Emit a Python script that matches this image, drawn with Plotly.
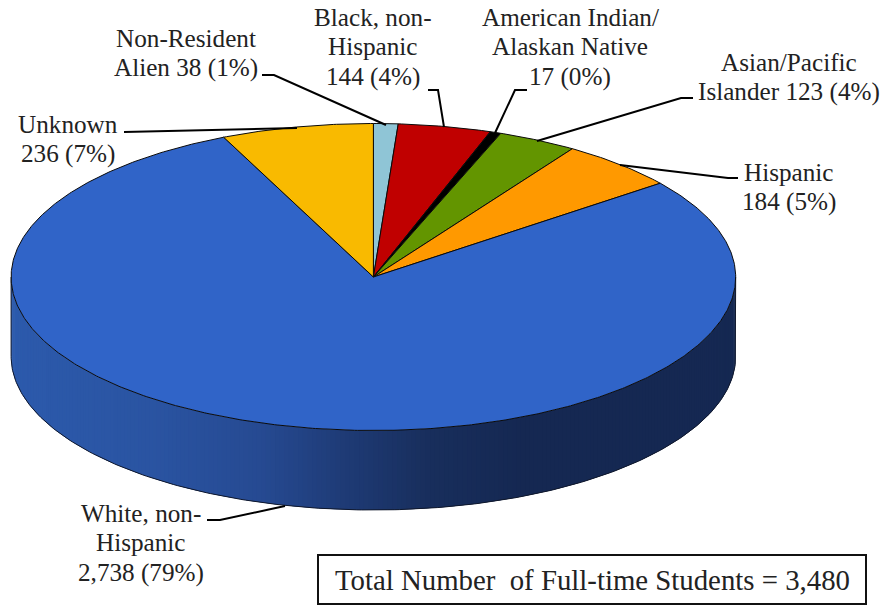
import numpy as np
import plotly.graph_objects as go

# ---- data (clockwise from 12 o'clock) ----
categories = ["Non-Resident Alien", "Black, non-Hispanic", "American Indian/Alaskan Native",
              "Asian/Pacific Islander", "Hispanic", "White, non-Hispanic", "Unknown"]
students = [38, 144, 17, 123, 184, 2738, 236]
label_texts = ["Non-Resident<br>Alien 38 (1%)", "Black, non-<br>Hispanic<br>144 (4%)",
               "American Indian/<br>Alaskan Native<br>17 (0%)", "Asian/Pacific<br>Islander 123 (4%)",
               "Hispanic<br>184 (5%)", "White, non-<br>Hispanic<br>2,738 (79%)", "Unknown<br>236 (7%)"]
total_text = "Total Number  of Full-time Students = 3,480"

# ---- styling / layout ----
slice_colors = ["#8fc5d6", "#c00000", "#000000", "#639500", "#ff9900", "#3064c8", "#f9ba00"]
CX, CY, RX, RY, DEPTH = 373.4, 277.0, 362.3, 153.5, 79.5
label_pos = [(186, 38), (373, 17), (570, 17), (789, 62), (789, 172), (141, 513), (68, 124)]
LINE_STEP = 29.8
leaders = [
    "M262,75 L274,75 L386,125",
    "M428,90 L438,90 L444,127",
    "M527,90 L515,90 L495,133",
    "M693,98 L681,98 L537,141",
    "M738,178 L728,178 L620,165",
    "M124,132 L297,128",
    "M207,520 L220,520 L285,506",
]
# side shading: colour as a function of horizontal position
shade_x = [11, 150, 260, 350, 430, 520, 736]
shade_rgb = [(44, 90, 172), (42, 84, 162), (38, 74, 146), (30, 58, 116), (24, 46, 92), (21, 40, 82), (21, 40, 82)]

FONT = "Liberation Serif"
TEXT = "#222222"


def ex(theta):
    return CX + RX * np.sin(theta)


def ey(theta):
    return CY - RY * np.cos(theta)


fig = go.Figure()

# side wall: overlapping slats painted right to left across the visible front half of the disc
edges = np.linspace(np.pi / 2, 3 * np.pi / 2, 241)
step = edges[1] - edges[0]
for a, b in zip(edges[:-1], edges[1:]):
    mx = ex((a + b) / 2)
    rgb = [int(round(np.interp(mx, shade_x, [c[i] for c in shade_rgb]))) for i in range(3)]
    col = f"rgb({rgb[0]},{rgb[1]},{rgb[2]})"
    t = np.linspace(a, min(b + step, edges[-1]), 4)
    xs = np.concatenate([ex(t), ex(t[::-1]), [ex(t[0])]])
    ys = np.concatenate([ey(t), ey(t[::-1]) + DEPTH, [ey(t[0])]])
    fig.add_trace(go.Scatter(x=xs, y=ys, mode="lines", fill="toself", fillcolor=col,
                             line=dict(width=0), hoverinfo="skip", showlegend=False))

# side wall outline
arc = np.linspace(np.pi / 2, 3 * np.pi / 2, 240)
fig.add_trace(go.Scatter(
    x=np.concatenate([[ex(arc[0])], ex(arc), [ex(arc[-1])]]),
    y=np.concatenate([[ey(arc[0])], ey(arc) + DEPTH, [ey(arc[-1])]]),
    mode="lines", line=dict(color="#10182c", width=1), hoverinfo="skip", showlegend=False))

# top face slices, computed from the values
cum = np.concatenate([[0], np.cumsum(students)]) / np.sum(students) * 2 * np.pi
for name, v, c, t0, t1 in zip(categories, students, slice_colors, cum[:-1], cum[1:]):
    t = np.linspace(t0, t1, max(4, int((t1 - t0) * 120)))
    fig.add_trace(go.Scatter(
        x=np.concatenate([[CX], ex(t), [CX]]),
        y=np.concatenate([[CY], ey(t), [CY]]),
        mode="lines", fill="toself", fillcolor=c, name=name,
        line=dict(color="#0a0a0a", width=1), text=f"{name}: {v}", hoverinfo="text", showlegend=False))

shapes = [dict(type="path", path=p, line=dict(color="black", width=2), layer="above") for p in leaders]
shapes.append(dict(type="rect", x0=318, x1=866, y0=555, y1=604,
                   line=dict(color="#111111", width=2), fillcolor="white"))

annotations = []
for t, (x, y) in zip(label_texts, label_pos):
    for i, line in enumerate(t.split("<br>")):
        annotations.append(dict(x=x, y=y + i * LINE_STEP, text=line, showarrow=False, xanchor="center",
                                yanchor="middle", font=dict(family=FONT, size=25.2, color=TEXT)))
annotations.append(dict(x=592.5, y=580, text=total_text, showarrow=False, xanchor="center", yanchor="middle",
                        font=dict(family=FONT, size=28.8, color=TEXT)))

fig.update_layout(
    width=884, height=605, margin=dict(l=0, r=0, t=0, b=0),
    paper_bgcolor="white", plot_bgcolor="white",
    xaxis=dict(range=[0, 884], visible=False, fixedrange=True),
    yaxis=dict(range=[605, 0], visible=False, fixedrange=True),
    shapes=shapes, annotations=annotations,
)

fig.write_html("out.html", post_script="document.body.style.margin='0';document.body.style.overflow='hidden';",
               config=dict(displayModeBar=False))
